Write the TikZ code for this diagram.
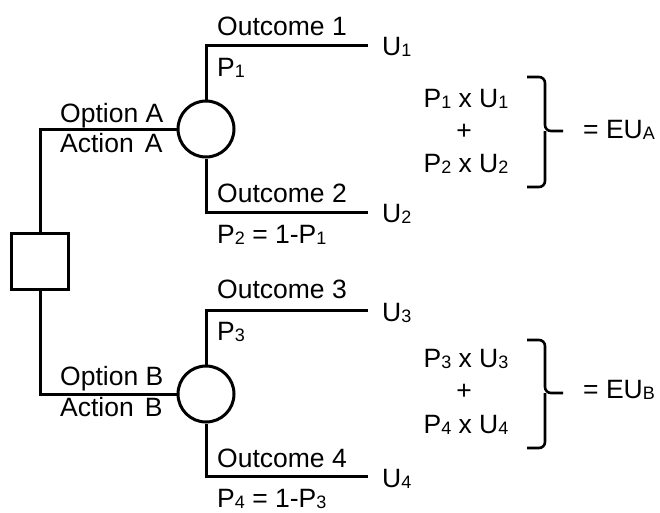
\documentclass[tikz,border=0pt]{standalone}
\usepackage{fontspec}
\setmainfont{Liberation Sans}
\newcommand{\sbs}[1]{\raisebox{-1pt}{\fontsize{18}{18}\selectfont #1}}
\begin{document}
\begin{tikzpicture}[x=1pt,y=-1pt,
  wire/.style={line width=3pt,line join=miter},
  lbl/.style={inner sep=0pt,anchor=base west,font=\fontsize{26.5}{30}\selectfont},
  ctr/.style={inner sep=0pt,anchor=base,font=\fontsize{26.5}{30}\selectfont},
  decbox/.style={draw,line width=3pt,minimum width=57pt,minimum height=56pt,inner sep=0pt},
  chance/.style={draw,line width=3pt,circle,minimum size=56pt,inner sep=0pt}]
\useasboundingbox (0,0) rectangle (660,512);
% nodes
\node[decbox] (dec) at (40,261.5) {};
\node[chance] (cA) at (206,129) {};
\node[chance] (cB) at (206,394) {};
\coordinate (e1) at (368,45);
\coordinate (e2) at (368,212);
\coordinate (e3) at (368,310);
\coordinate (e4) at (368,476);
% connectors
\draw[wire] (dec.north) |- (cA.west);
\draw[wire] (dec.south) |- (cB.west);
\draw[wire] (cA.north) |- (e1);
\draw[wire] (cA.south) |- (e2);
\draw[wire] (cB.north) |- (e3);
\draw[wire] (cB.south) |- (e4);
% labels
\node[lbl] (o1) at (217,35) {Outcome 1};
\node[lbl] (p1) at (217,76) {P\sbs{1}};
\node[lbl] (oa) at (60,122) {Option A};
\node[lbl] (aa) at (60,152) {Action\hspace{0.42em}A};
\node[lbl] (o2) at (217,202) {Outcome 2};
\node[lbl] (p2) at (217,243) {P\sbs{2} = 1-P\sbs{1}};
\node[lbl] (u1) at (382,55) {U\sbs{1}};
\node[lbl] (u2) at (382,222) {U\sbs{2}};
\node[lbl] (o3) at (217,298) {Outcome 3};
\node[lbl] (p3) at (217,340) {P\sbs{3}};
\node[lbl] (ob) at (60,385) {Option B};
\node[lbl] (ab) at (60,416) {Action\hspace{0.42em}B};
\node[lbl] (o4) at (217,467) {Outcome 4};
\node[lbl] (p4) at (217,507) {P\sbs{4} = 1-P\sbs{3}};
\node[lbl] (u3) at (382,321) {U\sbs{3}};
\node[lbl] (u4) at (382,487) {U\sbs{4}};
% formulas A
\node[ctr] (fa1) at (466,107) {P\sbs{1} x U\sbs{1}};
\node[ctr] (fa2) at (464,139) {+};
\node[ctr] (fa3) at (466,172) {P\sbs{2} x U\sbs{2}};
\draw[wire,line width=2.6pt,rounded corners=6pt] (527,77) -| (545,131) -- (563,131);
\draw[wire,line width=2.6pt,rounded corners=6pt] (527,187) -| (545,131);
\node[lbl] (eua) at (583,138) {= EU\sbs{A}};
% formulas B
\node[ctr] (fb1) at (466,367) {P\sbs{3} x U\sbs{3}};
\node[ctr] (fb2) at (464,399) {+};
\node[ctr] (fb3) at (466,433) {P\sbs{4} x U\sbs{4}};
\draw[wire,line width=2.6pt,rounded corners=6pt] (527,340) -| (545,393) -- (563,393);
\draw[wire,line width=2.6pt,rounded corners=6pt] (527,448) -| (545,393);
\node[lbl] (eub) at (583,398) {= EU\sbs{B}};
\end{tikzpicture}
\end{document}
